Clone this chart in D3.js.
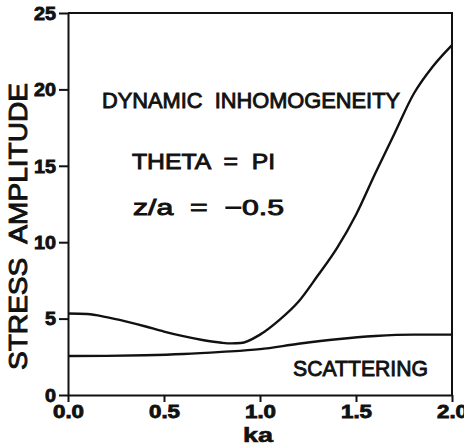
<!DOCTYPE html>
<html>
<head>
<meta charset="utf-8">
<script src="https://cdn.jsdelivr.net/npm/d3@7"></script>
<style>
  html, body { margin: 0; padding: 0; background: #fff; }
  svg text { font-family: "Liberation Sans", Arial, sans-serif; fill: #111; white-space: pre; }
</style>
</head>
<body>
<div id="chart"></div>
<script>
// values
const ka = [0.0, 0.1, 0.2, 0.3, 0.4, 0.5, 0.6, 0.7, 0.8, 0.85, 0.9, 1.0, 1.1, 1.2, 1.3, 1.4, 1.5, 1.6, 1.7, 1.8, 1.9, 2.0];
const dynamic = [5.33, 5.3, 5.1, 4.82, 4.5, 4.15, 3.85, 3.6, 3.42, 3.38, 3.4, 3.95, 4.9, 6.1, 7.8, 9.6, 11.8, 14.5, 17.1, 19.7, 21.5, 22.9];
const kaScat = [0.0, 0.2, 0.4, 0.6, 0.8, 1.0, 1.2, 1.4, 1.6, 1.8, 2.0];
const scattering = [2.55, 2.56, 2.6, 2.68, 2.82, 3.0, 3.35, 3.65, 3.86, 3.95, 3.95];
const xTicks = [0, 0.5, 1.0, 1.5, 2.0];
const yTicks = [0, 5, 10, 15, 20, 25];

const width = 464, height = 448;
const margin = { top: 13, right: 12, bottom: 53, left: 68 };

const svg = d3.select('#chart').append('svg')
  .attr('width', width)
  .attr('height', height);

const x = d3.scaleLinear().domain([0, 2]).range([margin.left, width - margin.right]);
const y = d3.scaleLinear().domain([0, 25]).range([height - margin.bottom, margin.top]);

// frame (top + right)
svg.append('path')
  .attr('d', `M${x(0)},${y(25)}H${x(2)}V${y(0)}`)
  .attr('fill', 'none').attr('stroke', '#111').attr('stroke-width', 2);

const xAxis = svg.append('g')
  .attr('transform', `translate(0,${y(0)})`)
  .call(d3.axisBottom(x).tickValues(xTicks).tickFormat(d3.format('.1f')).tickSize(7).tickSizeOuter(0));
const yAxis = svg.append('g')
  .attr('transform', `translate(${x(0)},0)`)
  .call(d3.axisLeft(y).tickValues(yTicks).tickSize(9).tickSizeOuter(0));

// the scanned tick digits are wide, so stretch them a bit
const tickLen = s => s.replace(/\./g, '').length * 11 + (s.includes('.') ? 9 : 0);

[xAxis, yAxis].forEach(g => {
  g.select('.domain').attr('stroke', '#111').attr('stroke-width', 2);
  g.selectAll('.tick line').attr('stroke', '#111').attr('stroke-width', 2);
  g.selectAll('.tick text')
    .style('font-size', '17.5px').style('font-weight', 'bold')
    .attr('fill', '#111').attr('stroke', '#111').attr('stroke-width', 0.8)
    .attr('textLength', function() { return tickLen(this.textContent); })
    .attr('lengthAdjust', 'spacingAndGlyphs');
});
xAxis.selectAll('.tick text').attr('dy', null).attr('y', 23);
yAxis.selectAll('.tick text').attr('x', -12).attr('dy', '0.36em');

const line = d3.line().x(d => x(d[0])).y(d => y(d[1])).curve(d3.curveMonotoneX);

svg.append('path')
  .datum(ka.map((k, i) => [k, dynamic[i]]))
  .attr('d', line)
  .attr('fill', 'none').attr('stroke', '#111').attr('stroke-width', 2.4);

svg.append('path')
  .datum(kaScat.map((k, i) => [k, scattering[i]]))
  .attr('d', line)
  .attr('fill', 'none').attr('stroke', '#111').attr('stroke-width', 2.4);

// labels
const label = (txt, px, py, size, len, extra) => {
  const t = svg.append('text')
    .attr('x', px).attr('y', py)
    .style('font-size', size + 'px')
    .attr('stroke', '#111').attr('stroke-width', 0.9)
    .text(txt);
  if (len) t.attr('textLength', len).attr('lengthAdjust', 'spacingAndGlyphs');
  if (extra) extra(t);
  return t;
};

label('DYNAMIC  INHOMOGENEITY', 102, 108, 22, 298);
label('THETA  =  PI', 132, 169, 22, 143);
label('z/a  =  \u22120.5', 133, 215, 22, 151);
label('SCATTERING', 293, 376, 22, 135);
label('ka', 243, 442, 20, 30, t => t.style('font-weight', 'bold').attr('stroke-width', 0.6));
label('STRESS  AMPLITUDE', 0, 0, 26, 287, t => t
  .attr('text-anchor', 'middle')
  .attr('transform', `translate(27,${(83 + 370) / 2}) rotate(-90)`));
</script>
</body>
</html>
